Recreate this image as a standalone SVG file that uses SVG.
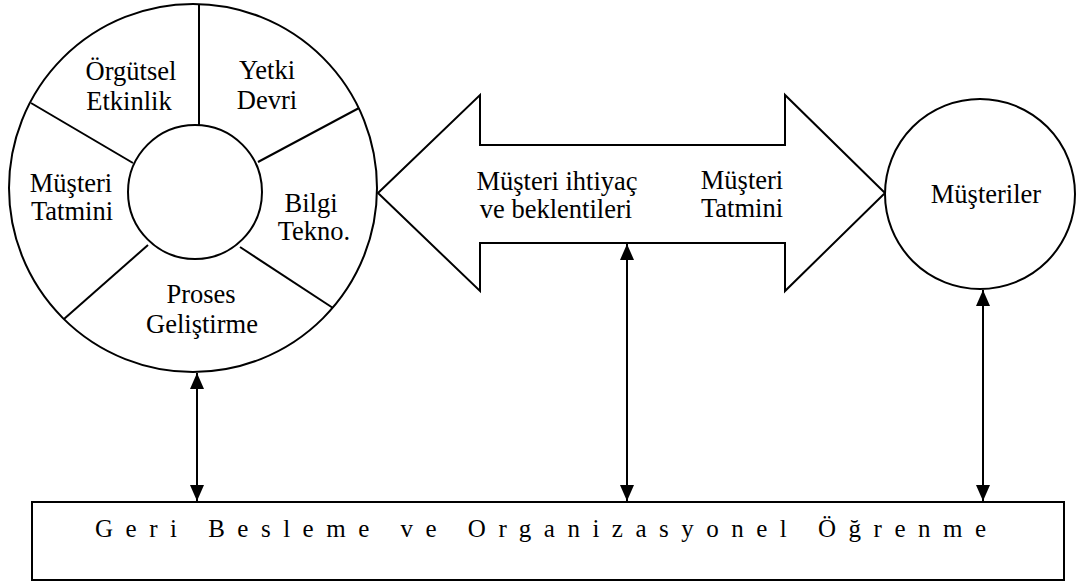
<svg xmlns="http://www.w3.org/2000/svg" width="1083" height="584" viewBox="0 0 1083 584">
  <style>
    .ln { stroke: #000; stroke-width: 2; fill: none; }
    .shape { stroke: #000; stroke-width: 2; fill: #fff; }
    .t { font-family: "Liberation Serif", "Times New Roman", serif; font-size: 26.5px; text-anchor: middle; fill: #000; }
    .band { font-family: "Liberation Serif", "Times New Roman", serif; font-size: 25px; letter-spacing: 12.5px; fill: #000; }
  </style>
  <defs>
    <marker id="head" markerUnits="userSpaceOnUse" viewBox="0 0 16 14" markerWidth="16" markerHeight="14" refX="16" refY="7" orient="auto-start-reverse">
      <path d="M0,0 L16,7 L0,14 z" fill="#000"/>
    </marker>
  </defs>

  <rect width="1083" height="584" fill="#fff"/>

  <!-- Organisation wheel: five segments around an empty hub -->
  <g id="wheel">
    <circle class="shape" cx="193" cy="188" r="184"/>
    <circle class="ln" cx="195" cy="192" r="67"/>
    <line class="ln" x1="199" y1="4" x2="199" y2="125"/>
    <line class="ln" x1="31" y1="103" x2="133" y2="163"/>
    <line class="ln" x1="359" y1="108" x2="258" y2="162"/>
    <line class="ln" x1="64" y1="319" x2="148" y2="245"/>
    <line class="ln" x1="240" y1="247" x2="333" y2="308"/>
    <text class="t" x="131" y="80">Örgütsel</text>
    <text class="t" x="129" y="110">Etkinlik</text>
    <text class="t" x="267" y="79">Yetki</text>
    <text class="t" x="267" y="109">Devri</text>
    <text class="t" x="71" y="192">Müşteri</text>
    <text class="t" x="72" y="220">Tatmini</text>
    <text class="t" x="311" y="212">Bilgi</text>
    <text class="t" x="314" y="240">Tekno.</text>
    <text class="t" x="201" y="303">Proses</text>
    <text class="t" x="202" y="333">Geliştirme</text>
  </g>

  <!-- Two-headed block arrow between the organisation and its customers -->
  <g id="exchange">
    <polygon class="shape" points="378,193 480,95 480,145 785,145 785,95 885,193 785,291 785,243 480,243 480,291"/>
    <text class="t" x="557" y="190">Müşteri ihtiyaç</text>
    <text class="t" x="556" y="218">ve beklentileri</text>
    <text class="t" x="742" y="189">Müşteri</text>
    <text class="t" x="742" y="217">Tatmini</text>
  </g>

  <!-- Customers -->
  <g id="customers">
    <circle class="shape" cx="980" cy="194" r="95"/>
    <text class="t" x="986" y="203">Müşteriler</text>
  </g>

  <!-- Feedback and learning band -->
  <g id="feedback">
    <rect class="shape" x="32" y="502" width="1032" height="78"/>
    <text class="band" x="95" y="537">Geri Besleme ve Organizasyonel Öğrenme</text>
  </g>

  <!-- Two-way links into the feedback band -->
  <g id="connectors">
    <line class="ln" x1="197" y1="373" x2="197" y2="501" marker-start="url(#head)" marker-end="url(#head)"/>
    <line class="ln" x1="627" y1="244" x2="627" y2="501" marker-start="url(#head)" marker-end="url(#head)"/>
    <line class="ln" x1="983" y1="290" x2="983" y2="501" marker-start="url(#head)" marker-end="url(#head)"/>
  </g>
</svg>
